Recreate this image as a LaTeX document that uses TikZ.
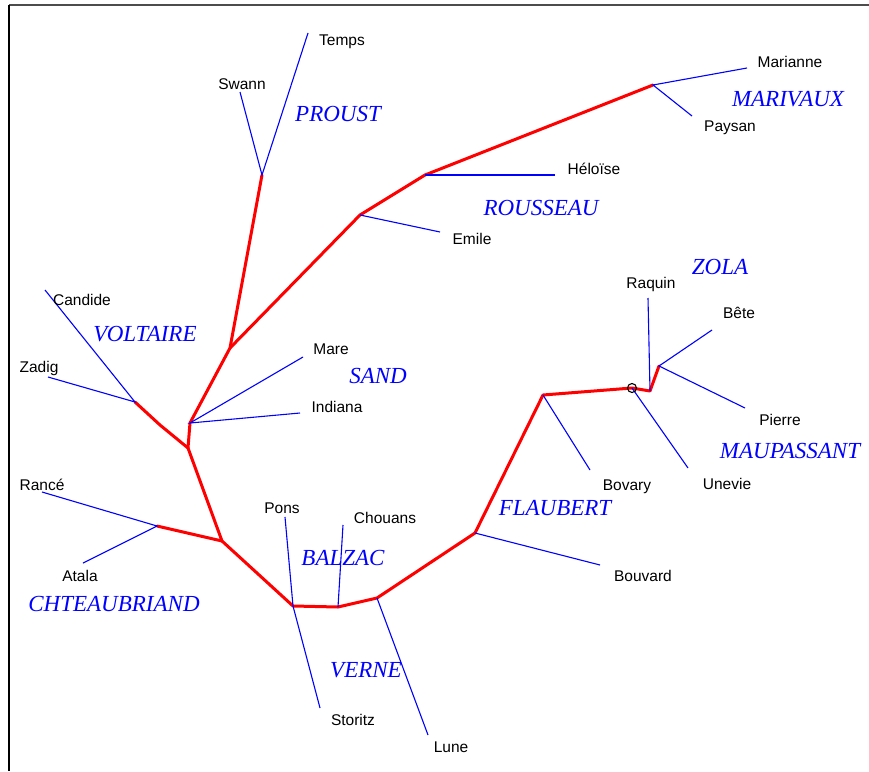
\documentclass[tikz,border=0pt]{standalone}
\usepackage{fontspec}
\setmainfont{Liberation Sans}
\newfontfamily\authorfont{Liberation Serif}
\usetikzlibrary{positioning}

\tikzset{
  trunk/.style={draw=red, line width=3pt, line join=round, line cap=round},
  twig/.style={draw=blue, line width=1.1pt},
  title/.style={font=\fontsize{15.5}{17}\selectfont, inner sep=0pt},
  author/.style={text=blue, inner sep=0pt,
                 font=\authorfont\itshape\fontsize{23}{25}\selectfont}
}

\begin{document}
\begin{tikzpicture}[x=1pt, y=-1pt]
    \useasboundingbox (0,0) rectangle (869,771);
    \draw[black!70, line width=2pt] (869,5) -- (9,5);
    \draw[black, line width=2pt] (9,5) -- (9,771);

    % inner forks
    \coordinate (root) at (188,448);
    \coordinate (sandjct) at (190,423);
    \coordinate (fork) at (230,348);
    \coordinate (proustjct) at (262,175);
    \coordinate (rous1) at (360,215);
    \coordinate (rous2) at (425,175);
    \coordinate (marivjct) at (653,85);
    \coordinate (voltjct) at (135,402);
    \coordinate (voltbend) at (160,425);
    \coordinate (chatjct) at (157,526);
    \coordinate (chatfork) at (222,541);
    \coordinate (balz1) at (293,606);
    \coordinate (balz2) at (338,607);
    \coordinate (vernejct) at (377,598);
    \coordinate (flaubjct) at (475,533);
    \coordinate (bovjct) at (543,395);
    \coordinate (ring) at (632,388);
    \coordinate (zolajct) at (650,391);
    \coordinate (maupjct) at (659,366);

    % leaf ends
    \coordinate (temps-end) at (308,33);
    \coordinate (swann-end) at (240,92);
    \coordinate (marianne-end) at (747,68);
    \coordinate (paysan-end) at (692,116);
    \coordinate (heloise-end) at (555,175);
    \coordinate (emile-end) at (440,232);
    \coordinate (mare-end) at (303,357);
    \coordinate (indiana-end) at (300,413);
    \coordinate (candide-end) at (45,290);
    \coordinate (zadig-end) at (48,377);
    \coordinate (rance-end) at (42,492);
    \coordinate (atala-end) at (83,563);
    \coordinate (pons-end) at (285,517);
    \coordinate (storitz-end) at (320,708);
    \coordinate (chouans-end) at (343,525);
    \coordinate (lune-end) at (428,735);
    \coordinate (bouvard-end) at (600,565);
    \coordinate (bovary-end) at (590,470);
    \coordinate (unevie-end) at (688,468);
    \coordinate (raquin-end) at (648,298);
    \coordinate (bete-end) at (712,330);
    \coordinate (pierre-end) at (745,408);

    % red skeleton
    \draw[trunk] (voltjct) -- (voltbend) -- (root) -- (sandjct) -- (fork) -- (proustjct);
    \draw[trunk] (fork) -- (rous1) -- (rous2) -- (marivjct);
    \draw[trunk] (root) -- (chatfork) -- (chatjct);
    \draw[trunk] (chatfork) -- (balz1) -- (balz2) -- (vernejct) -- (flaubjct)
        -- (bovjct) -- (ring) -- (zolajct) -- (maupjct);

    % blue leaves
    \draw[twig] (temps-end) -- (proustjct) -- (swann-end);
    \draw[twig] (marianne-end) -- (marivjct) -- (paysan-end);
    \draw[twig] (rous2) -- (heloise-end);
    \draw[twig] (rous1) -- (emile-end);
    \draw[twig] (mare-end) -- (sandjct) -- (indiana-end);
    \draw[twig] (candide-end) -- (voltjct) -- (zadig-end);
    \draw[twig] (rance-end) -- (chatjct) -- (atala-end);
    \draw[twig] (pons-end) -- (balz1) -- (storitz-end);
    \draw[twig] (balz2) -- (chouans-end);
    \draw[twig] (vernejct) -- (lune-end);
    \draw[twig] (flaubjct) -- (bouvard-end);
    \draw[twig] (bovjct) -- (bovary-end);
    \draw[twig] (ring) -- (unevie-end);
    \draw[twig] (zolajct) -- (raquin-end);
    \draw[twig] (bete-end) -- (maupjct) -- (pierre-end);
    \draw[black, line width=1.1pt] (ring) circle (4.5);

    % titles
    \node[title] (temps) at (342,42) {Temps};
    \node[title] (swann) at (242,84) {Swann};
    \node[title] (marianne) at (790,62) {Marianne};
    \node[title] (paysan) at (730,128) {Paysan};
    \node[title] (heloise) at (594,169) {Héloïse};
    \node[title] (emile) at (472,239) {Emile};
    \node[title] (raquin) at (651,284) {Raquin};
    \node[title] (bete) at (739,313) {Bête};
    \node[title] (candide) at (82,300) {Candide};
    \node[title] (mare) at (331,349) {Mare};
    \node[title] (zadig) at (39,368) {Zadig};
    \node[title] (indiana) at (337,407) {Indiana};
    \node[title] (pierre) at (780,420) {Pierre};
    \node[title] (bovary) at (627,487) {Bovary};
    \node[title] (unevie) at (727,484) {Unevie};
    \node[title] (rance) at (42,485) {Rancé};
    \node[title] (pons) at (282,508) {Pons};
    \node[title] (chouans) at (385,518) {Chouans};
    \node[title] (bouvard) at (643,576) {Bouvard};
    \node[title] (atala) at (80,576) {Atala};
    \node[title] (storitz) at (353,720) {Storitz};
    \node[title] (lune) at (451,747) {Lune};

    % authors
    \node[author] (proust) at (338,114) {PROUST};
    \node[author] (marivaux) at (788,99) {MARIVAUX};
    \node[author] (rousseau) at (541,208) {ROUSSEAU};
    \node[author] (zola) at (720,267) {ZOLA};
    \node[author] (voltaire) at (145,334) {VOLTAIRE};
    \node[author] (sand) at (378,376) {SAND};
    \node[author] (maupassant) at (790,451) {MAUPASSANT};
    \node[author] (flaubert) at (555,508) {FLAUBERT};
    \node[author] (balzac) at (343,558) {BALZAC};
    \node[author] (chateaubriand) at (114,604) {CHTEAUBRIAND};
    \node[author] (verne) at (366,670) {VERNE};
\end{tikzpicture}
\end{document}
